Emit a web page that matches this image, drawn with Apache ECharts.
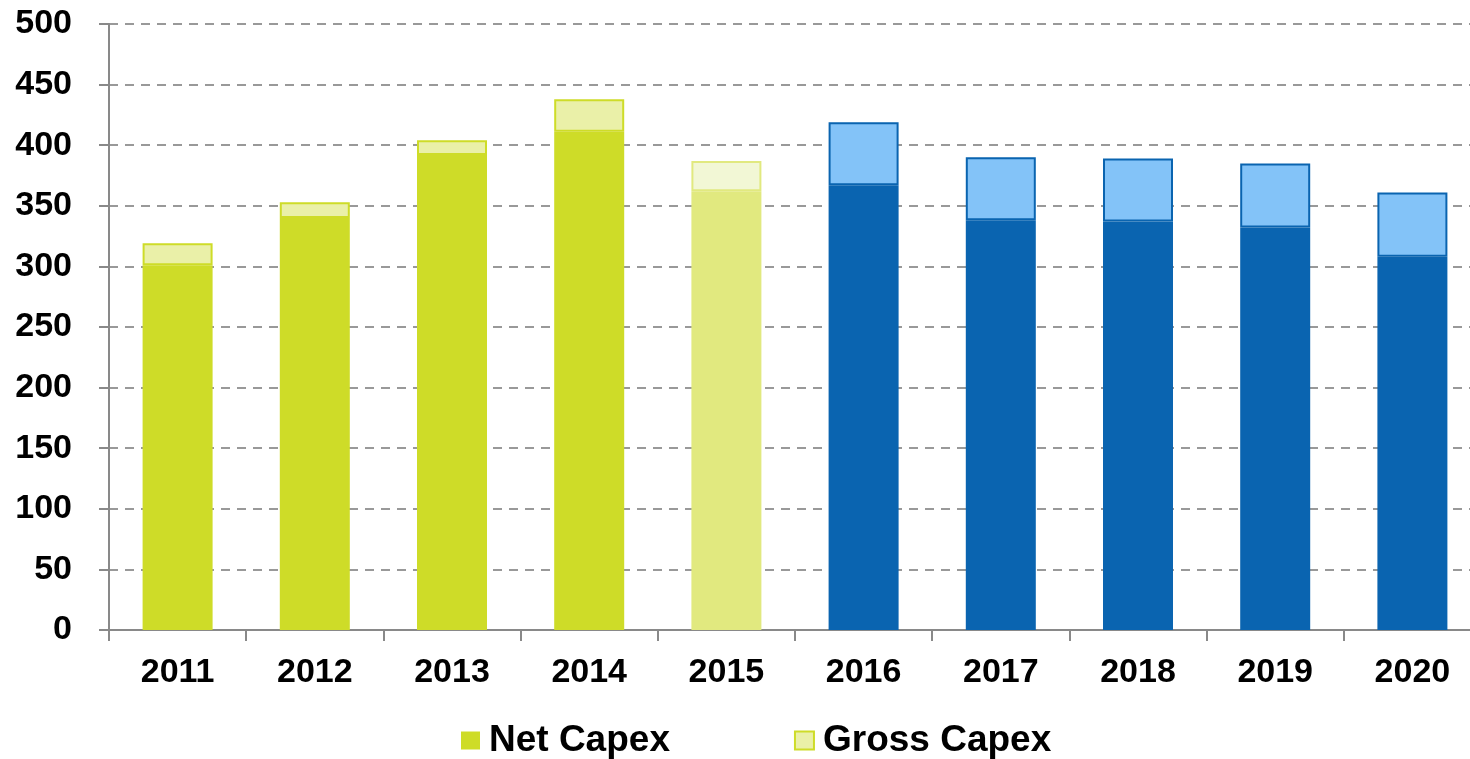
<!DOCTYPE html>
<html>
<head>
<meta charset="utf-8">
<script src="https://cdn.jsdelivr.net/npm/echarts@6/dist/echarts.min.js"></script>
<style>
html, body { margin: 0; padding: 0; background: #fff; }
#chart { width: 1470px; height: 759px; }
</style>
</head>
<body>
<div id="chart"></div>
<script>
// years on the x axis
const years = ['2011', '2012', '2013', '2014', '2015', '2016', '2017', '2018', '2019', '2020']
// net capex (bottom part of each bar)
const netCapex = [301, 340, 392, 411, 362, 367, 338, 337, 332, 308]
// gross capex (top of each bar)
const grossCapex = [319, 353, 404, 438, 387, 419, 390, 389, 385, 361]
const yTicks = [0, 50, 100, 150, 200, 250, 300, 350, 400, 450, 500]

// colour groups: actual / estimate / plan
const palette = {
    actual: { net: '#CEDC28', gross: '#EAF0A8', edge: '#CEDC28' },
    estimate: { net: '#E1E97F', gross: '#F2F7D5', edge: '#E1E97F' },
    plan: { net: '#0A64B0', gross: '#83C3F8', edge: '#0A64B0' }
}
const groupOf = (y) => (+y <= 2014 ? 'actual' : +y === 2015 ? 'estimate' : 'plan')

const font = "'Liberation Sans', Arial, sans-serif"

const chart = echarts.init(document.getElementById('chart'))

chart.setOption({
    animation: false,
    // plot runs a little past the right edge, like the original slide
    grid: { left: 109, width: 1372, top: 24, bottom: 129, outerBoundsMode: 'none' },
    legend: {
        left: 461,
        top: 722,
        padding: 0,
        itemWidth: 19,
        itemHeight: 18,
        itemGap: 124,
        textStyle: { fontFamily: font, fontWeight: 'bold', fontSize: 37, color: '#000', padding: [0, 0, 0, 4] },
        data: [
            { name: 'Net Capex', icon: 'rect', itemStyle: { color: '#CEDC28', borderWidth: 0 } },
            { name: 'Gross Capex', icon: 'rect', itemStyle: { color: '#EAF0A8', borderColor: '#CEDC28', borderWidth: 2 } }
        ]
    },
    xAxis: {
        type: 'category',
        data: years,
        axisLine: { lineStyle: { color: '#898989', width: 2 } },
        axisTick: { show: true, length: 11, lineStyle: { color: '#898989', width: 2 } },
        axisLabel: { fontFamily: font, fontWeight: 'bold', fontSize: 34, color: '#000', margin: 26 }
    },
    yAxis: {
        type: 'value',
        min: yTicks[0],
        max: yTicks[yTicks.length - 1],
        interval: 50,
        axisLine: { show: true, lineStyle: { color: '#898989', width: 2 } },
        axisTick: { show: true, length: 10, lineStyle: { color: '#898989', width: 2 } },
        axisLabel: { fontFamily: font, fontWeight: 'bold', fontSize: 34, color: '#000', margin: 37 },
        splitLine: { lineStyle: { color: '#999', width: 2, type: [9, 7] } }
    },
    series: [
        {
            name: 'Net Capex',
            type: 'bar',
            stack: 'capex',
            barWidth: 70,
            itemStyle: { color: '#CEDC28' },
            data: netCapex.map((v, i) => ({
                value: v,
                itemStyle: { color: palette[groupOf(years[i])].net }
            }))
        },
        {
            name: 'Gross Capex',
            type: 'bar',
            stack: 'capex',
            barWidth: 70,
            itemStyle: { color: '#EAF0A8', borderColor: '#CEDC28', borderWidth: 2 },
            data: grossCapex.map((v, i) => {
                const p = palette[groupOf(years[i])]
                return {
                    value: v - netCapex[i],
                    itemStyle: { color: p.gross, borderColor: p.edge, borderWidth: 2 }
                }
            })
        }
    ]
})
</script>
</body>
</html>
